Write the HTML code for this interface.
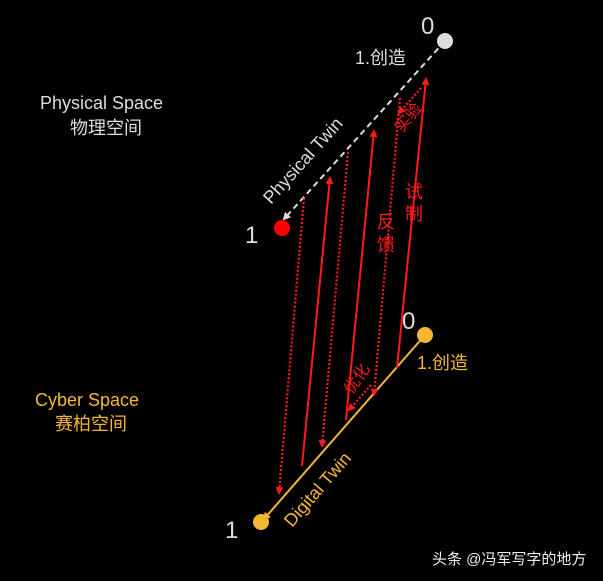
<!DOCTYPE html>
<html><head><meta charset="utf-8"><style>
html,body{margin:0;padding:0;background:#000;}
svg{display:block}
text{font-family:"Liberation Sans","Noto Sans CJK SC",sans-serif;}
</style></head><body>
<svg width="603" height="581" viewBox="0 0 603 581" xmlns="http://www.w3.org/2000/svg">
<defs>
<marker id="ar" markerWidth="8" markerHeight="8" refX="6" refY="4" orient="auto" markerUnits="userSpaceOnUse"><path d="M0,0 L8,4 L0,8 Z" fill="#ff1a1a"/></marker>
<marker id="aw" markerWidth="8" markerHeight="8" refX="6" refY="4" orient="auto" markerUnits="userSpaceOnUse"><path d="M0,0 L8,4 L0,8 Z" fill="#ddd"/></marker>
<marker id="ao" markerWidth="8" markerHeight="8" refX="6" refY="4" orient="auto" markerUnits="userSpaceOnUse"><path d="M0,0 L8,4 L0,8 Z" fill="#f5b731"/></marker>
</defs>
<line x1="445" y1="41" x2="284" y2="219" stroke="#ddd" stroke-width="2" stroke-dasharray="6,4" marker-end="url(#aw)"/>
<line x1="425" y1="335" x2="264" y2="519" stroke="#f5b731" stroke-width="2" marker-end="url(#ao)"/>
<g stroke="#ff1a1a" stroke-width="2" fill="none">
<line x1="302" y1="466" x2="330" y2="178" marker-end="url(#ar)"/>
<line x1="346" y1="420" x2="374" y2="131" marker-end="url(#ar)"/>
<line x1="397" y1="368" x2="426" y2="79" marker-end="url(#ar)"/>
</g>
<g stroke="#ff1a1a" stroke-width="2.2" fill="none" stroke-dasharray="2,2">
<line x1="304" y1="198" x2="279" y2="493" marker-end="url(#ar)"/>
<line x1="348" y1="152" x2="322" y2="446" marker-end="url(#ar)"/>
<line x1="400" y1="98" x2="374" y2="395" marker-end="url(#ar)"/>
<line x1="421" y1="88" x2="399" y2="113" marker-end="url(#ar)"/>
<line x1="371" y1="385" x2="349" y2="410" marker-end="url(#ar)"/>
</g>
<circle cx="445" cy="41" r="8" fill="#ddd"/>
<circle cx="282" cy="228" r="8" fill="#f00"/>
<circle cx="425" cy="335" r="8" fill="#f5b731"/>
<circle cx="261" cy="522" r="8" fill="#f5b731"/>
<g fill="#ddd">
<text x="421" y="34" font-size="24">0</text>
<text x="355" y="64" font-size="18">1.创造</text>
<text x="40" y="109" font-size="18">Physical Space</text>
<text x="70" y="134" font-size="18">物理空间</text>
<text x="245" y="243" font-size="24">1</text>
<text x="402" y="329" font-size="24">0</text>
<text x="225" y="538" font-size="24">1</text>
<text transform="translate(271,205) rotate(-48)" font-size="18">Physical Twin</text>
</g>
<g fill="#f5b731">
<text x="417" y="369" font-size="18">1.创造</text>
<text x="35" y="406" font-size="18">Cyber Space</text>
<text x="55" y="430" font-size="18">赛柏空间</text>
<text transform="translate(292,528) rotate(-49)" font-size="18">Digital Twin</text>
</g>
<g fill="#ff1a1a" font-size="18">
<text x="405" y="198">试</text><text x="405" y="220">制</text>
<text x="377" y="228">反</text><text x="377" y="251">馈</text>
<text transform="translate(402,133) rotate(-50)" font-size="16">实验</text>
<text transform="translate(352,395) rotate(-55)" font-size="16">优化</text>
</g>
<text x="432" y="564" font-size="15" fill="#eee">头条 @冯军写字的地方</text>
</svg>
</body></html>
